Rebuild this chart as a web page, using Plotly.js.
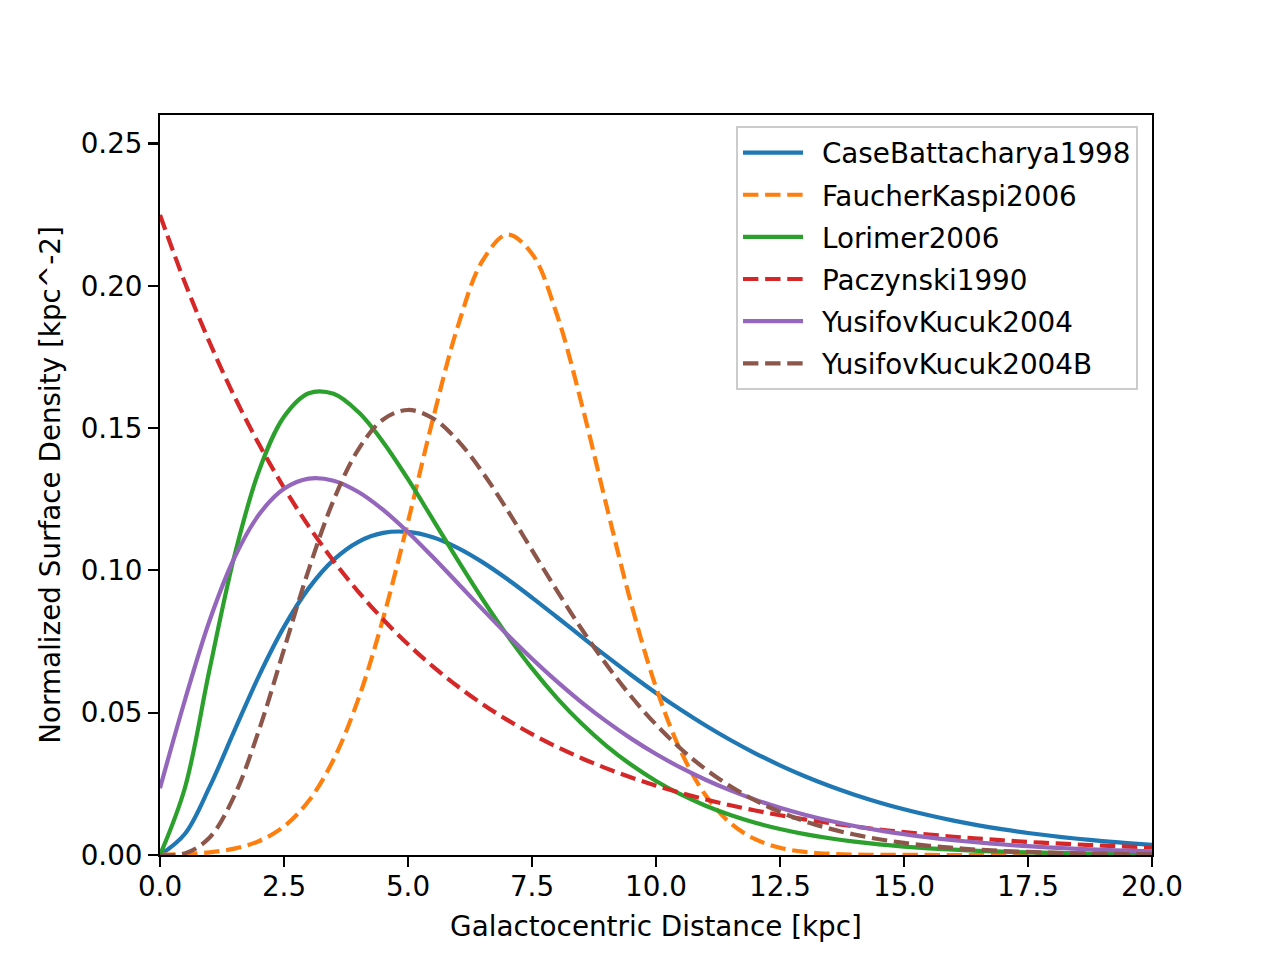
<!DOCTYPE html>
<html>
<head>
<meta charset="utf-8">
<script src="https://cdn.plot.ly/plotly-3.0.1.min.js"></script>
<style>html,body{margin:0;padding:0;background:#fff;}#chart{width:1280px;height:960px;}</style>
</head>
<body>
<div id="chart"></div>
<script>
const radius = [0,0.5,1,1.5,2,2.5,3,3.5,4,4.5,5,5.5,6,6.5,7,7.5,8,8.5,9,9.5,10,10.5,11,11.5,12,12.5,13,13.5,14,14.5,15,15.5,16,16.5,17,17.5,18,18.5,19,19.5,20];

const caseBattacharya1998 = [0,0.00736,0.02391,0.04370,0.06313,0.08014,0.09377,0.10370,0.11005,0.11316,0.11352,0.11161,0.10792,0.10291,0.09697,0.09045,0.08362,0.07670,0.06986,0.06325,0.05694,0.05101,0.04549,0.04040,0.03574,0.03151,0.02769,0.02426,0.02120,0.01848,0.01607,0.01394,0.01207,0.01043,0.00899,0.00774,0.00666,0.00571,0.00490,0.00419,0.00358];

const faucherKaspi2006 = [0.00013,0.00037,0.00094,0.00223,0.00491,0.01004,0.01906,0.03357,0.05485,0.08320,0.11711,0.15299,0.18549,0.20871,0.21795,0.21122,0.18998,0.15858,0.12285,0.08832,0.05893,0.03649,0.02097,0.01119,0.00554,0.00254,0.00108,0.00043,0.00016,0.00005,0.00002,0.00001,0,0,0,0,0,0,0,0,0];

const lorimer2006 = [0,0.02346,0.06525,0.10505,0.13522,0.15398,0.16224,0.16204,0.15562,0.14506,0.13204,0.11794,0.10368,0.08995,0.07716,0.06555,0.05522,0.04618,0.03836,0.03168,0.02602,0.02127,0.01732,0.01404,0.01135,0.00914,0.00734,0.00587,0.00469,0.00374,0.00297,0.00235,0.00186,0.00147,0.00116,0.00091,0.00072,0.00056,0.00044,0.00035,0.00027];

const paczynski1990 = [0.2249,0.2012,0.1801,0.1611,0.14420,0.12904,0.11547,0.10333,0.09246,0.08274,0.07404,0.06625,0.05928,0.05305,0.04747,0.04248,0.03801,0.03401,0.03044,0.02724,0.02437,0.02181,0.01951,0.01746,0.01563,0.01398,0.01251,0.01120,0.01002,0.00897,0.00802,0.00718,0.00642,0.00575,0.00514,0.00460,0.00412,0.00369,0.00330,0.00295,0.00264];

const yusifovKucuk2004 = [0.02346,0.05429,0.08240,0.10444,0.11970,0.12865,0.13222,0.13150,0.12754,0.12125,0.11342,0.10469,0.09556,0.08638,0.07745,0.06894,0.06098,0.05363,0.04694,0.04089,0.03548,0.03068,0.02643,0.02270,0.01944,0.01661,0.01416,0.01204,0.01021,0.00865,0.00731,0.00617,0.00520,0.00438,0.00368,0.00309,0.00259,0.00216,0.00181,0.00151,0.00126];

const yusifovKucuk2004B = [0,0.00057,0.00614,0.02083,0.04412,0.07221,0.10037,0.12464,0.14253,0.15304,0.15636,0.15345,0.14568,0.13451,0.12127,0.10713,0.09296,0.07941,0.06691,0.05568,0.04582,0.03733,0.03014,0.02414,0.01918,0.01514,0.01187,0.00926,0.00718,0.00553,0.00425,0.00325,0.00247,0.00187,0.00142,0.00107,0.00080,0.00060,0.00045,0.00033,0.00025];

const seriesNames = ["CaseBattacharya1998","FaucherKaspi2006","Lorimer2006","Paczynski1990","YusifovKucuk2004","YusifovKucuk2004B"];
const seriesColors = ["#1f77b4","#ff7f0e","#2ca02c","#d62728","#9467bd","#8c564b"];
const seriesDash = ["solid","15.4px,6.7px","solid","15.4px,6.7px","solid","15.4px,6.7px"];
const seriesValues = [caseBattacharya1998,faucherKaspi2006,lorimer2006,paczynski1990,yusifovKucuk2004,yusifovKucuk2004B];

const xTicks = [0,2.5,5,7.5,10,12.5,15,17.5,20];
const yTicks = [0,0.05,0.10,0.15,0.20,0.25];

const font = "DejaVu Sans, sans-serif";
const traces = seriesNames.map((n,i)=>({
  x: radius, y: seriesValues[i], name: "\u2002" + n, legendgroup: "g" + i,
  type: "scatter", mode: "lines",
  line: {color: seriesColors[i], width: 4.2, dash: seriesDash[i], shape: "spline", smoothing: 1}
}));

const layout = {
  width: 1280, height: 960,
  paper_bgcolor: "#ffffff", plot_bgcolor: "#ffffff",
  margin: {l:160, r:128, t:115, b:105, pad:0},
  font: {family: font, size: 27.8, color: "#000"},
  showlegend: true,
  legend: {
    x: 0.9859, y: 0.9851, xanchor: "right", yanchor: "top",
    bgcolor: "rgba(255,255,255,0.8)", bordercolor: "#cccccc", borderwidth: 2,
    font: {family: font, size: 27.8, color: "#000"},
    itemwidth: 60, tracegroupgap: 3
  },
  xaxis: {
    range: [0,20], tickvals: xTicks, ticktext: xTicks.map(v=>v.toFixed(1)),
    showgrid: false, zeroline: false, showline: true, mirror: true,
    linecolor: "#000", linewidth: 2.2, ticks: "outside", ticklen: 9.7, tickwidth: 2.2, tickcolor: "#000",
    tickfont: {family: font, size: 27.8}, ticklabelstandoff: -4,
    title: {text: "Galactocentric Distance [kpc]", font: {family: font, size: 27.8}, standoff: 14},
    automargin: false
  },
  yaxis: {
    range: [0,0.26], tickvals: yTicks, ticktext: yTicks.map(v=>v.toFixed(2)),
    showgrid: false, zeroline: false, showline: true, mirror: true,
    linecolor: "#000", linewidth: 2.2, ticks: "outside", ticklen: 9.7, tickwidth: 2.2, tickcolor: "#000",
    tickfont: {family: font, size: 27.8},
    title: {text: "Normalized Surface Density [kpc^-2]", font: {family: font, size: 27.8}, standoff: 12},
    automargin: false
  }
};

Plotly.newPlot("chart", traces, layout, {displayModeBar: false, staticPlot: true});
</script>
</body>
</html>
